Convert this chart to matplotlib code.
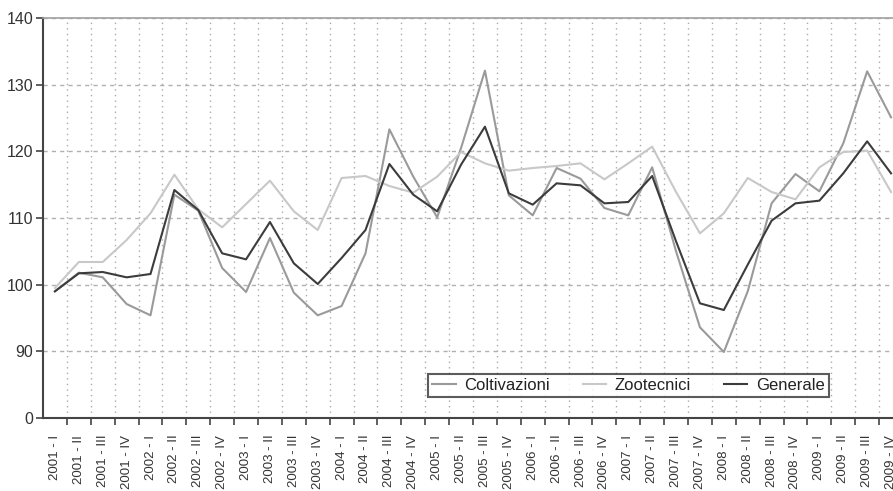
import matplotlib.pyplot as plt

plt.rcParams['font.family'] = ['Liberation Sans', 'DejaVu Sans']

years = ['2001', '2002', '2003', '2004', '2005', '2006', '2007', '2008', '2009']
quarters = ['I', 'II', 'III', 'IV']
labels = [f'{y} - {q}' for y in years for q in quarters]

coltivazioni = [99.0, 101.8, 101.1, 97.1, 95.4, 113.5, 111.1, 102.5, 98.9, 107.0,
                98.8, 95.4, 96.8, 104.7, 123.3, 116.2, 110.1, 120.5, 132.1, 113.4,
                110.4, 117.5, 115.9, 111.5, 110.4, 117.6, 105.0, 93.6, 89.9, 99.0,
                112.2, 116.6, 114.0, 121.2, 132.0, 125.1]
zootecnici = [99.5, 103.4, 103.4, 106.7, 110.7, 116.5, 111.3, 108.6, 112.1, 115.6,
              111.0, 108.2, 116.0, 116.3, 114.8, 113.8, 116.2, 119.9, 118.2, 117.1,
              117.5, 117.8, 118.2, 115.8, 118.2, 120.7, 113.9, 107.7, 110.7, 116.0,
              113.9, 112.8, 117.6, 119.9, 120.1, 113.9]
generale = [99.0, 101.7, 101.9, 101.1, 101.6, 114.2, 111.2, 104.7, 103.8, 109.4,
            103.2, 100.1, 104.0, 108.2, 118.1, 113.5, 111.0, 118.0, 123.7, 113.7,
            112.0, 115.2, 114.9, 112.2, 112.4, 116.3, 106.5, 97.2, 96.2, 103.0,
            109.6, 112.2, 112.6, 116.7, 121.5, 116.7]

y_ticks = [80, 90, 100, 110, 120, 130, 140]
y_labels = ['0', '90', '100', '110', '120', '130', '140']

fig = plt.figure(figsize=(8.93, 4.91), dpi=100)
ax = fig.add_axes([43 / 893, 73 / 491, 860 / 893, 400 / 491])

x = range(len(labels))
ax.plot(x, coltivazioni, color='#9a9a9a', lw=1.5, label='Coltivazioni')
ax.plot(x, zootecnici, color='#c8c8c8', lw=1.5, label='Zootecnici')
ax.plot(x, generale, color='#3c3c3c', lw=1.5, label='Generale')

ax.set_xlim(-0.5, len(labels) - 0.5)
ax.set_ylim(80, 140)

# labels sit in the middle of each quarter, ticks on the boundaries
ax.set_xticks(list(x))
ax.set_xticklabels(labels, rotation=90, fontsize=9.5, color='#333333')
ax.set_xticks([i + 0.5 for i in range(len(labels) - 1)], minor=True)
ax.tick_params(axis='x', which='major', length=0, pad=12)
ax.tick_params(axis='x', which='minor', length=5, width=1.2, color='#444444')

ax.set_yticks(y_ticks)
ax.set_yticklabels(y_labels, fontsize=11.5, color='#333333')
ax.tick_params(axis='y', length=5, width=1.2, color='#444444', pad=2)

ax.grid(axis='x', which='minor', color='#aaaaaa', linestyle=(0, (1, 3)), lw=1)
ax.grid(axis='y', which='major', color='#b0b0b0', linestyle=(0, (3, 3)), lw=1)
ax.set_axisbelow(True)

for side in ['left', 'bottom']:
    ax.spines[side].set_color('#444444')
    ax.spines[side].set_linewidth(1.5)
ax.spines['top'].set_color('#a0a0a0')
ax.spines['top'].set_linewidth(1.2)
ax.spines['right'].set_visible(False)

leg = ax.legend(loc='lower left', bbox_to_anchor=((428 - 43) / 860, (418 - 397) / 400),
                ncol=3, fontsize=12, frameon=True, fancybox=False, handlelength=1.4,
                columnspacing=2.0, borderpad=0.25, handletextpad=0.5, borderaxespad=0)
leg.get_frame().set_edgecolor('#333333')
leg.get_frame().set_linewidth(1.5)
for t in leg.get_texts():
    t.set_color('#222222')

fig.savefig('out.png', dpi=100)
